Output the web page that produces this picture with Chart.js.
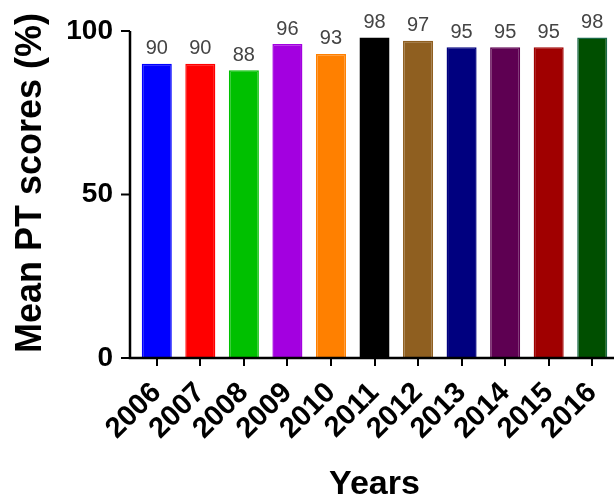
<!DOCTYPE html>
<html>
<head>
<meta charset="utf-8">
<script src="https://cdn.jsdelivr.net/npm/chart.js@4/dist/chart.umd.min.js"></script>
<style>
  html, body { margin: 0; padding: 0; background: #fff; }
  #wrap { width: 614px; height: 500px; overflow: hidden; }
</style>
</head>
<body>
<div id="wrap"><canvas id="ptChart" width="614" height="500"></canvas></div>
<script>
// data
const years = ['2006', '2007', '2008', '2009', '2010', '2011', '2012', '2013', '2014', '2015', '2016'];
const meanScores = [90, 90, 88, 96, 93, 98, 97, 95, 95, 95, 98];
const yTicks = [0, 50, 100];

const barColors = ['#0000ff', '#ff0000', '#00c000', '#a300e0', '#ff8000', '#000000',
                   '#8f5f20', '#00007f', '#5e0052', '#a00000', '#004f00'];
const barBorders = barColors.slice(0, 10).concat(['#1a6a48']);

const FONT = 'Arial, "Liberation Sans", sans-serif';
const Y_TITLE = 'Mean PT scores (%)';

// axis lines, ticks, y title and value labels drawn by hand
const axisDecor = {
    id: 'axisDecor',
    afterDraw(chart) {
        const { ctx, chartArea, scales } = chart;
        const y = scales.y;
        const ax = chartArea.left - 5;
        const y0 = y.getPixelForValue(0);
        ctx.save();
        ctx.strokeStyle = '#000';
        ctx.lineWidth = 2.5;
        ctx.beginPath();
        ctx.moveTo(ax, y.getPixelForValue(100));
        ctx.lineTo(ax, y0);
        ctx.lineTo(chartArea.right + 2, y0);
        ctx.stroke();
        ctx.lineWidth = 2;
        yTicks.forEach(v => {
            const py = y.getPixelForValue(v);
            ctx.beginPath();
            ctx.moveTo(ax - 9, py);
            ctx.lineTo(ax, py);
            ctx.stroke();
        });

        // y title, sits a bit above the middle of the axis like the original
        ctx.translate(41, 183);
        ctx.rotate(-Math.PI / 2);
        ctx.font = 'bold 36px ' + FONT;
        ctx.fillStyle = '#000';
        ctx.textAlign = 'center';
        ctx.textBaseline = 'alphabetic';
        ctx.fillText(Y_TITLE, 0, 0);
        ctx.restore();
    },
    afterDatasetsDraw(chart) {
        const { ctx } = chart;
        ctx.save();
        ctx.font = '20px ' + FONT;
        ctx.fillStyle = '#444';
        ctx.textAlign = 'center';
        ctx.textBaseline = 'bottom';
        chart.getDatasetMeta(0).data.forEach((bar, i) => {
            ctx.fillText(String(meanScores[i]), bar.x, bar.y - 5);
        });
        ctx.restore();
    }
};

new Chart(document.getElementById('ptChart'), {
    type: 'bar',
    data: {
        labels: years,
        datasets: [{
            data: meanScores,
            backgroundColor: barColors,
            borderColor: barBorders,
            borderWidth: 1.5,
            barPercentage: 0.69,
            categoryPercentage: 1
        }]
    },
    options: {
        responsive: false,
        animation: false,
        layout: { padding: { top: 31, left: 0, right: 0, bottom: 0 } },
        plugins: {
            legend: { display: false },
            tooltip: { enabled: false }
        },
        scales: {
            x: {
                afterFit: s => {
                    s.height = 142;
                    s.paddingLeft = 0;
                    s.paddingRight = 0;
                },
                border: { display: false },
                grid: {
                    display: true,
                    offset: false,
                    drawOnChartArea: false,
                    drawTicks: true,
                    tickLength: 8,
                    color: '#000',
                    lineWidth: 2
                },
                ticks: {
                    autoSkip: false,
                    minRotation: 45,
                    maxRotation: 45,
                    padding: 10,
                    color: '#000',
                    font: { family: FONT, size: 29, weight: 'bold' }
                },
                title: {
                    display: true,
                    text: 'Years',
                    color: '#000',
                    padding: { top: 0, bottom: 0 },
                    font: { family: FONT, size: 34, weight: 'bold', lineHeight: 0.9 }
                }
            },
            y: {
                min: 0,
                max: 100,
                afterFit: s => {
                    s.width = 135;
                    s.paddingTop = 0;
                    s.paddingBottom = 0;
                },
                afterBuildTicks: s => { s.ticks = yTicks.map(v => ({ value: v })); },
                border: { display: false },
                grid: { display: false, drawTicks: false },
                ticks: {
                    padding: 22,
                    color: '#000',
                    font: { family: FONT, size: 28, weight: 'bold' }
                },
                title: { display: false }
            }
        }
    },
    plugins: [axisDecor]
});
</script>
</body>
</html>
